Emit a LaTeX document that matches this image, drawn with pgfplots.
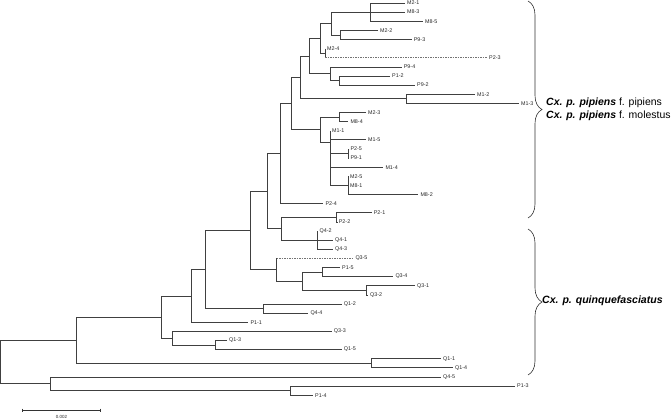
\documentclass[border=0pt]{standalone}
\usepackage{fontspec}
\setmainfont{Liberation Sans}
\usepackage{pgfplots}
\pgfplotsset{compat=1.18}
\usetikzlibrary{decorations.pathreplacing}
\begin{document}
\begin{tikzpicture}
\begin{axis}[
  scale only axis, width=672bp, height=419bp,
  xmin=0, xmax=672, ymin=0, ymax=419, y dir=reverse,
  hide axis, clip=false, unbounded coords=jump,
]
% tree branches (pixel units, y downwards)
\addplot[black!75, line width=0.65bp, mark=none] table {
x y
76.7 340.12
0.7 340.12
0.7 383.76
50 383.76
nan nan
441 376.92
50 376.92
50 390.6
290 390.6
nan nan
515 386.04
290 386.04
290 395.16
313 395.16
nan nan
161.7 317
76.7 317
76.7 363.24
371 363.24
nan nan
441 358.68
371 358.68
371 367.8
453 367.8
nan nan
191.7 295.84
161.7 295.84
161.7 338.16
172.3 338.16
nan nan
331.7 331.32
172.3 331.32
172.3 345
215 345
nan nan
227 340.44
215 340.44
215 349.56
341.7 349.56
nan nan
205 269.48
191.7 269.48
191.7 322.2
248.3 322.2
nan nan
250 230.43
205 230.43
205 308.52
263.3 308.52
nan nan
341.7 303.96
263.3 303.96
263.3 313.08
308.3 313.08
nan nan
267.3 191.1
250 191.1
250 269.76
276.7 269.76
nan nan
276.7 258.36
276.7 281.16
302.7 281.16
nan nan
322.7 272.04
302.7 272.04
302.7 290.28
366 290.28
nan nan
340 267.48
322.7 267.48
322.7 276.6
393.3 276.6
nan nan
415 285.72
366 285.72
366 294.84
368 294.84
nan nan
280.7 153.5
267.3 153.5
267.3 228.72
281.7 228.72
nan nan
336.7 217.32
281.7 217.32
281.7 240.12
317.5 240.12
nan nan
371.7 212.76
336.7 212.76
336.7 221.88
337.5 221.88
nan nan
317.5 231
317.5 249.24
333 249.24
nan nan
317.5 240.12
333 240.12
nan nan
291.7 103.4
280.7 103.4
280.7 203.64
323.3 203.64
nan nan
300 77.39
291.7 77.39
291.7 129.5
320 129.5
nan nan
339.3 117
320 117
320 142
330 142
nan nan
366 112.44
339.3 112.44
339.3 121.56
348.3 121.56
nan nan
330 130.68
330 185.4
nan nan
330 139.8
366 139.8
nan nan
330 153.48
348.3 153.48
nan nan
330 167.16
383.3 167.16
nan nan
330 185.4
348 185.4
nan nan
349.3 148.92
348.3 148.92
348.3 158.04
349.3 158.04
nan nan
348 176.28
348 194.52
418.3 194.52
nan nan
309.3 56.01
300 56.01
300 98.76
406 98.76
nan nan
475 94.2
406 94.2
406 103.32
519 103.32
nan nan
320 38.34
309.3 38.34
309.3 73.68
330 73.68
nan nan
401.7 66.84
330 66.84
330 80.52
339.3 80.52
nan nan
390 75.96
339.3 75.96
339.3 85.08
415 85.08
nan nan
331.7 23.52
320 23.52
320 53.16
325 53.16
nan nan
325 48.6
325 57.72
nan nan
370 12.12
331.7 12.12
331.7 34.92
340.7 34.92
nan nan
378 30.36
340.7 30.36
340.7 39.48
411.7 39.48
nan nan
405 3
370 3
370 21.24
423 21.24
nan nan
370 12.12
405 12.12
};
% light dashed branches
\addplot[black!55, line width=0.6bp, dash pattern=on 1.6bp off 0.9bp, mark=none] table {
x y
325 57.72
487 57.72
nan nan
276.7 258.36
353.3 258.36
};
% leaf labels
\addplot[draw=none, mark=none, nodes near coords, point meta=explicit symbolic,
  every node near coord/.style={anchor=west, inner sep=0pt, font=\fontsize{5.4}{6}\selectfont, text=black!85}]
  table[meta=lab] {
x y lab
407 3 M2-1
407 12.12 M8-3
425 21.24 M8-5
380 30.36 M2-2
413.7 39.48 P9-3
327 48.6 M2-4
489 57.72 P2-3
403.7 66.84 P9-4
392 75.96 P1-2
417 85.08 P9-2
477 94.2 M1-2
521 103.32 M1-3
368 112.44 M2-3
350.3 121.56 M8-4
332 130.68 M1-1
368 139.8 M1-5
350.3 148.92 P2-5
350.3 158.04 P9-1
385.3 167.16 M1-4
350 176.28 M2-5
350 185.4 M8-1
420.3 194.52 M8-2
325.3 203.64 P2-4
373.7 212.76 P2-1
338.7 221.88 P2-2
319.5 231 Q4-2
335 240.12 Q4-1
335 249.24 Q4-3
355.3 258.36 Q3-5
342 267.48 P1-5
395.3 276.6 Q3-4
417 285.72 Q3-1
370 294.84 Q3-2
343.7 303.96 Q1-2
310.3 313.08 Q4-4
250.3 322.2 P1-1
333.7 331.32 Q3-3
229 340.44 Q1-3
343.7 349.56 Q1-5
443 358.68 Q1-1
455 367.8 Q1-4
443 376.92 Q4-5
517 386.04 P1-3
315 395.16 P1-4
};
% scale bar
\addplot[black!80, line width=0.6bp, mark=none] table {
x y
22.3 408.6
22.3 412.4
nan nan
22.3 410.5
100.7 410.5
nan nan
100.7 408.6
100.7 412.4
};
\node[font=\fontsize{4.5}{5}\selectfont, inner sep=0pt, text=black!85] at (axis cs:61.5,416.5) {0.002};
% braces
\draw[black!80, line width=0.6bp, decorate, decoration={brace, amplitude=14bp}]
  (axis cs:528,1) -- (axis cs:528,218);
\draw[black!80, line width=0.6bp, decorate, decoration={brace, amplitude=14bp}]
  (axis cs:528,229) -- (axis cs:528,375);
\node[anchor=west, inner sep=0pt, font=\fontsize{10.5}{12}\selectfont] at (axis cs:546,103) {\textbf{\textit{Cx. p. pipiens}} f. pipiens};
\node[anchor=west, inner sep=0pt, font=\fontsize{10.5}{12}\selectfont] at (axis cs:546,116) {\textbf{\textit{Cx. p. pipiens}} f. molestus};
\node[anchor=west, inner sep=0pt, font=\fontsize{10.6}{12}\selectfont] at (axis cs:542,301) {\textbf{\textit{Cx. p. quinquefasciatus}}};
\end{axis}
\pgfresetboundingbox
\path[use as bounding box] (current axis.south west) rectangle (current axis.north east);
\end{tikzpicture}
\end{document}
